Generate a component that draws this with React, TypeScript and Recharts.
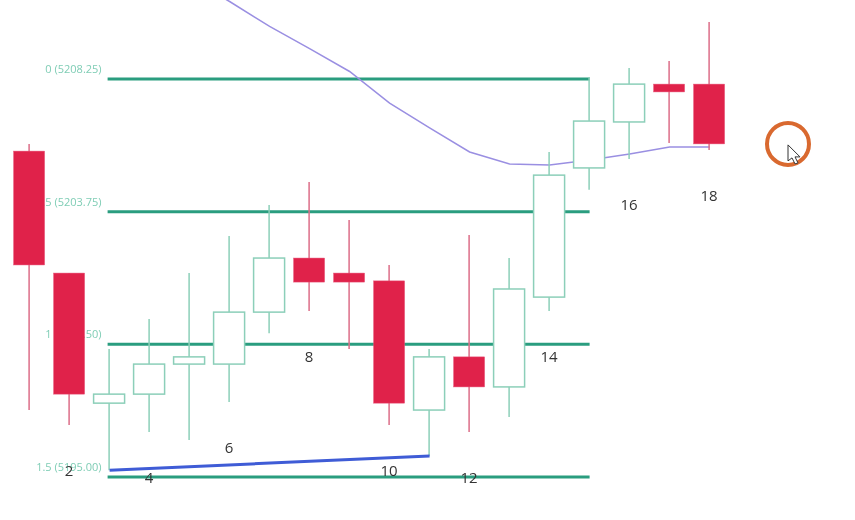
import { Bar, ComposedChart, Line, ReferenceDot, ReferenceLine, XAxis, YAxis } from "recharts";

const candleNumbers = [1, 2, 3, 4, 5, 6, 7, 8, 9, 10, 11, 12, 13, 14, 15, 16, 17, 18];
const opens = [5205.85, 5201.79, 5197.46, 5197.76, 5198.76, 5198.76, 5200.49, 5202.29, 5201.79, 5201.53, 5197.23, 5199.0, 5198.0, 5200.99, 5205.29, 5206.82, 5208.08, 5208.08];
const closes = [5202.06, 5197.76, 5197.76, 5198.76, 5199.0, 5200.49, 5202.29, 5201.49, 5201.49, 5197.46, 5199.0, 5198.0, 5201.26, 5205.05, 5206.85, 5208.08, 5207.82, 5206.09];
const highs = [5206.09, 5201.79, 5199.26, 5200.26, 5201.79, 5203.02, 5204.06, 5204.82, 5203.56, 5202.06, 5199.26, 5203.06, 5202.29, 5205.82, 5208.32, 5208.62, 5208.85, 5210.15];
const lows = [5197.23, 5196.73, 5195.23, 5196.5, 5196.23, 5197.5, 5199.79, 5200.53, 5199.26, 5196.73, 5195.7, 5196.5, 5197.0, 5200.53, 5204.56, 5205.59, 5206.12, 5205.89];
const movingAverage = [null, null, null, null, 5211.6, 5210.83, 5210.0, 5209.26, 5208.5, 5207.45, 5206.62, 5205.82, 5205.42, 5205.39, 5205.55, 5205.75, 5205.99, 5205.99];
const trendLine = [null, null, 5195.23, null, null, null, null, null, null, null, 5195.7, null, null, null, null, null, null, null];

const fibLevels = [5208.25, 5203.83, 5199.42, 5195.0];
const fibLabels = ["0 (5208.25)", "0.5 (5203.75)", "1 (5199.50)", "1.5 (5195.00)"];
const fibStart = 2.95;
const fibEnd = 15;

const cursorCandle = 19.96;
const cursorPrice = 5206.09;

const GREEN = "#8ccfb9";
const RED = "#e0224a";
const RED_WICK = "#dc6d88";

const data = candleNumbers.map((n, i) => ({
  n,
  open: opens[i],
  close: closes[i],
  high: highs[i],
  low: lows[i],
  range: [lows[i], highs[i]],
  ma: movingAverage[i],
  trend: trendLine[i],
}));

function Candle(props: any) {
  const { x, y, width, height, payload } = props;
  const perPoint = height / (payload.high - payload.low);
  const cx = x + width / 2;
  const up = payload.close >= payload.open;
  const top = y + (payload.high - Math.max(payload.open, payload.close)) * perPoint;
  const bottom = y + (payload.high - Math.min(payload.open, payload.close)) * perPoint;
  return (
    <g>
      <line x1={cx} x2={cx} y1={y} y2={y + height} stroke={up ? GREEN : RED_WICK} strokeWidth={1.5} />
      <rect
        x={x}
        y={top}
        width={width}
        height={bottom - top}
        fill={up ? "#ffffff" : RED}
        stroke={up ? GREEN : "#e8567a"}
        strokeWidth={up ? 1.5 : 0.5}
      />
      {payload.n % 2 === 0 && (
        <text x={cx} y={y + height + 51} textAnchor="middle" fontFamily="Open Sans" fontSize={15} fill="#333333">
          {payload.n}
        </text>
      )}
    </g>
  );
}

function FibLine(props: any) {
  const { x1, x2, y1, label } = props;
  return (
    <g>
      <text x={x1 - 6} y={y1 - 6} textAnchor="end" fontFamily="Open Sans" fontSize={11} fill="#7fcdb5">
        {label}
      </text>
      <line x1={x1} x2={x2} y1={y1} y2={y1} stroke="#2a9d7f" strokeWidth={3} />
    </g>
  );
}

function CursorMark(props: any) {
  const { cx, cy } = props;
  return (
    <g>
      <circle cx={cx} cy={cy} r={21} fill="none" stroke="#d9692f" strokeWidth={4} />
      <path
        d={`M${cx} ${cy + 1} v16 l4 -3 l3 6 l3 -1 l-3 -6 l5 0 z`}
        fill="#ffffff"
        stroke="#333333"
        strokeWidth={1}
      />
    </g>
  );
}

export default function App() {
  return (
    <div style={{ position: "absolute", left: 0, top: 0, width: 855, height: 520, background: "#ffffff", filter: "blur(0.3px)" }}>
      <ComposedChart width={855} height={520} data={data} margin={{ top: 0, right: 0, bottom: 0, left: 0 }}>
        <XAxis dataKey="n" type="number" domain={[0.26, 21.635]} allowDataOverflow hide />
        <YAxis type="number" domain={[5193.57, 5210.88]} allowDataOverflow hide />
        {fibLevels.map((level, i) => (
          <ReferenceLine
            key={level}
            zIndex={100}
            segment={[
              { x: fibStart, y: level },
              { x: fibEnd, y: level },
            ]}
            shape={(p: any) => <FibLine {...p} label={fibLabels[i]} />}
          />
        ))}
        <Line
          dataKey="ma"
          type="linear"
          zIndex={150}
          stroke="#9a8fe2"
          strokeWidth={1.5}
          dot={false}
          isAnimationActive={false}
        />
        <Bar dataKey="range" barSize={31} zIndex={300} shape={Candle} isAnimationActive={false} />
        <Line
          dataKey="trend"
          type="linear"
          zIndex={400}
          connectNulls
          stroke="#3f5cd6"
          strokeWidth={3}
          dot={false}
          isAnimationActive={false}
        />
        <ReferenceDot x={cursorCandle} y={cursorPrice} r={21} shape={CursorMark} />
      </ComposedChart>
    </div>
  );
}
